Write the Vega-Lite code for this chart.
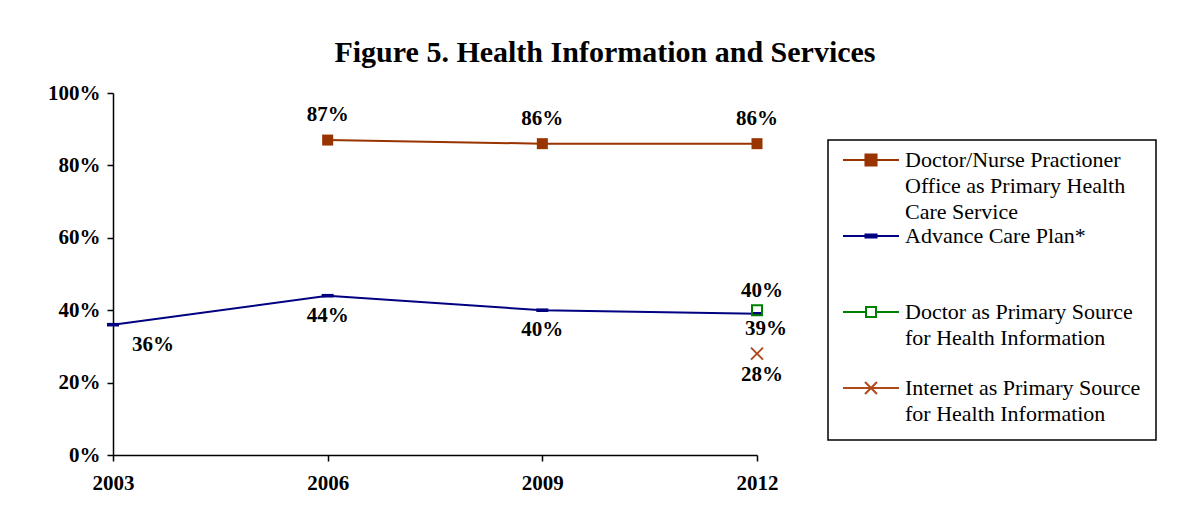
{
  "$schema": "https://vega.github.io/schema/vega-lite/v6.json",
  "autosize": "none",
  "padding": {"left": 113, "top": 93, "right": 423, "bottom": 76},
  "width": 644,
  "height": 362,
  "background": "white",
  "title": {
    "text": "Figure 5. Health Information and Services",
    "font": "Liberation Serif",
    "fontSize": 30,
    "fontWeight": "bold",
    "color": "black",
    "anchor": "middle",
    "frame": "group",
    "dx": 170,
    "baseline": "alphabetic",
    "offset": -10
  },
  "config": {
    "view": {"stroke": null},
    "axis": {
      "labelFont": "Liberation Serif",
      "labelFontSize": 21,
      "labelFontWeight": "bold",
      "labelColor": "black",
      "domainColor": "black",
      "domainWidth": 1.5,
      "tickColor": "black",
      "tickWidth": 1.5,
      "tickSize": 6,
      "grid": false,
      "title": null
    },
    "text": {"font": "Liberation Serif", "fontSize": 21, "fontWeight": "bold", "color": "black", "baseline": "middle"}
  },
  "data": {
    "values": [
      {"series": "Doctor/Nurse Practioner Office as Primary Health Care Service", "year": "2006", "value": 0.87},
      {"series": "Doctor/Nurse Practioner Office as Primary Health Care Service", "year": "2009", "value": 0.86},
      {"series": "Doctor/Nurse Practioner Office as Primary Health Care Service", "year": "2012", "value": 0.86},
      {"series": "Advance Care Plan*", "year": "2003", "value": 0.36},
      {"series": "Advance Care Plan*", "year": "2006", "value": 0.44},
      {"series": "Advance Care Plan*", "year": "2009", "value": 0.40},
      {"series": "Advance Care Plan*", "year": "2012", "value": 0.39},
      {"series": "Doctor as Primary Source for Health Information", "year": "2012", "value": 0.40},
      {"series": "Internet as Primary Source for Health Information", "year": "2012", "value": 0.28}
    ]
  },
  "encoding": {
    "x": {
      "field": "year",
      "type": "ordinal",
      "scale": {"type": "point", "padding": 0, "domain": ["2003", "2006", "2009", "2012"]},
      "axis": {"labelAngle": 0, "labelPadding": 11}
    },
    "y": {
      "field": "value",
      "type": "quantitative",
      "scale": {"domain": [0, 1], "nice": false},
      "axis": {"values": [0, 0.2, 0.4, 0.6, 0.8, 1], "format": ".0%", "labelPadding": 7}
    }
  },
  "layer": [
    {
      "mark": {"type": "line", "strokeWidth": 2},
      "encoding": {
        "color": {
          "field": "series",
          "type": "nominal",
          "scale": {
            "domain": [
              "Doctor/Nurse Practioner Office as Primary Health Care Service",
              "Advance Care Plan*",
              "Doctor as Primary Source for Health Information",
              "Internet as Primary Source for Health Information"
            ],
            "range": ["#993300", "#000080", "#008000", "#B04A1A"]
          },
          "legend": {
            "orient": "none",
            "legendX": 715,
            "legendY": 47,
            "title": null,
            "padding": 15,
            "strokeColor": "black",
            "fillColor": "white",
            "gridAlign": "all",
            "rowPadding": 2,
            "symbolSize": 256,
            "symbolStrokeWidth": 2,
            "labelFont": "Liberation Serif",
            "labelFontSize": 22,
            "labelColor": "black",
            "labelOffset": 40,
            "labelLimit": 400,
            "labelBaseline": "alphabetic",
            "labelExpr": "indexof(datum.value, 'Nurse') >= 0 ? ['Doctor/Nurse Practioner', 'Office as Primary Health', 'Care Service'] : indexof(datum.value, 'Internet') >= 0 ? ['Internet as Primary Source', 'for Health Information'] : indexof(datum.value, 'Doctor as') >= 0 ? ['Doctor as Primary Source', 'for Health Information'] : datum.value",
            "encode": {
              "legend": {"update": {"strokeWidth": {"value": 1.5}}},
              "labels": {"update": {"lineHeight": {"value": 26}, "dy": {"value": 1}}},
              "symbols": {
                "update": {
                  "shape": {"signal": "indexof(datum.value, 'Nurse') >= 0 ? 'M-1.375,-0.75H5.625M1.435,-1.44H2.815V-0.06H1.435Z' : indexof(datum.value, 'Advance') >= 0 ? 'M-1.375,-0.75H5.625M1.435,-0.95H2.815V-0.55H1.435Z' : indexof(datum.value, 'Doctor as') >= 0 ? 'M-1.375,-0.75H1.5M2.75,-0.75H5.625M1.5,-1.375H2.75V-0.125H1.5Z' : 'M-1.375,-0.75H5.625M1.375,-1.5L2.875,0M1.375,0L2.875,-1.5'"},
                  "fill": {"signal": "indexof(datum.value, 'Nurse') >= 0 ? '#993300' : indexof(datum.value, 'Advance') >= 0 ? '#000080' : 'transparent'"},
                  "strokeWidth": {"value": 2},
                  "size": {"value": 256},
                  "opacity": {"value": 1}
                }
              }
            }
          }
        }
      }
    },
    {
      "transform": [{"filter": "indexof(datum.series, 'Nurse') >= 0"}],
      "mark": {"type": "point", "shape": "square", "size": 121, "filled": true, "color": "#993300", "opacity": 1}
    },
    {
      "transform": [{"filter": "datum.series == 'Advance Care Plan*'"}],
      "mark": {"type": "point", "shape": "M-1,-0.3H1V0.3H-1Z", "size": 144, "filled": true, "color": "#000080", "opacity": 1}
    },
    {
      "transform": [{"filter": "indexof(datum.series, 'Doctor as') >= 0"}],
      "mark": {"type": "point", "shape": "square", "size": 100, "filled": false, "color": "#008000", "strokeWidth": 2, "opacity": 1}
    },
    {
      "transform": [{"filter": "indexof(datum.series, 'Internet') >= 0"}],
      "mark": {"type": "point", "shape": "M-1,-1L1,1M-1,1L1,-1", "size": 144, "filled": false, "color": "#B04A1A", "strokeWidth": 2, "opacity": 1}
    },
    {
      "transform": [{"filter": "indexof(datum.series, 'Nurse') >= 0"}],
      "mark": {"type": "text", "dy": -25},
      "encoding": {"text": {"field": "value", "format": ".0%"}}
    },
    {
      "transform": [{"filter": "datum.series == 'Advance Care Plan*' && datum.year == '2003'"}],
      "mark": {"type": "text", "dx": 40, "dy": 20},
      "encoding": {"text": {"field": "value", "format": ".0%"}}
    },
    {
      "transform": [{"filter": "datum.series == 'Advance Care Plan*' && (datum.year == '2006' || datum.year == '2009')"}],
      "mark": {"type": "text", "dy": 20},
      "encoding": {"text": {"field": "value", "format": ".0%"}}
    },
    {
      "transform": [{"filter": "datum.series == 'Advance Care Plan*' && datum.year == '2012'"}],
      "mark": {"type": "text", "dx": 9, "dy": 15},
      "encoding": {"text": {"field": "value", "format": ".0%"}}
    },
    {
      "transform": [{"filter": "indexof(datum.series, 'Doctor as') >= 0"}],
      "mark": {"type": "text", "dx": 5, "dy": -19},
      "encoding": {"text": {"field": "value", "format": ".0%"}}
    },
    {
      "transform": [{"filter": "indexof(datum.series, 'Internet') >= 0"}],
      "mark": {"type": "text", "dx": 5, "dy": 21},
      "encoding": {"text": {"field": "value", "format": ".0%"}}
    }
  ]
}
